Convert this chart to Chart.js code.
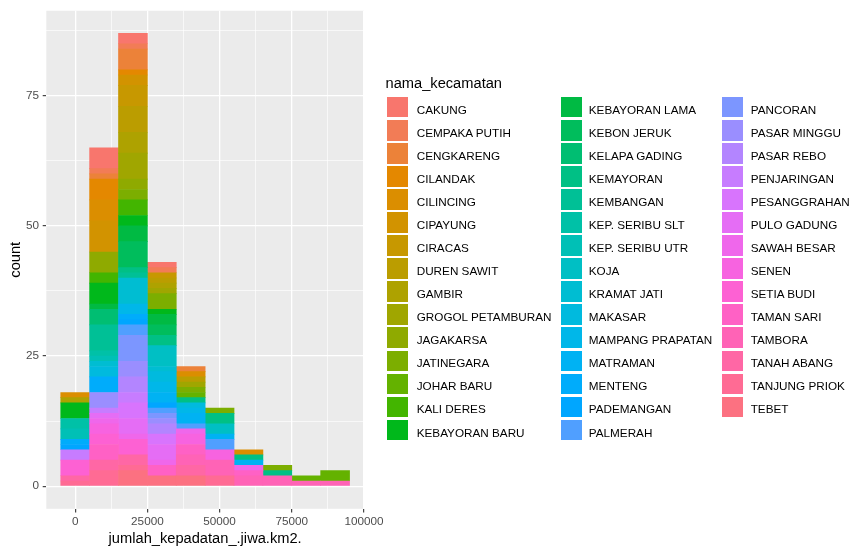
<!DOCTYPE html>
<html>
<head>
<meta charset="utf-8">
<script src="https://cdn.jsdelivr.net/npm/chart.js@4.4.0/dist/chart.umd.min.js"></script>
<style>
html, body { margin: 0; padding: 0; background: #ffffff; }
#wrap { position: relative; width: 865px; height: 554px; overflow: hidden; background: #ffffff;
        font-family: 'Liberation Sans', Arial, sans-serif; }
#c { position: absolute; left: 0; top: 0; }
.lg-title { position: absolute; left: 385.5px; top: 75.9px; font-size: 14.67px; line-height: 14.67px;
            color: #000; white-space: nowrap; }
.lg-key { position: absolute; width: 21px; height: 20.5px; }
.lg-text { position: absolute; font-size: 11.73px; line-height: 23.05px; height: 23.05px;
           color: #000; white-space: nowrap; }
</style>
</head>
<body>
<div id="wrap">
  <canvas id="c" width="865" height="554"></canvas>
  <div id="legend"></div>
</div>
<script>
// ---------------- data ----------------
const binCenters = [0, 10000, 20000, 30000, 40000, 50000, 60000, 70000, 80000, 90000];

const kecamatanNames = [
  'CAKUNG', 'CEMPAKA PUTIH', 'CENGKARENG', 'CILANDAK', 'CILINCING', 'CIPAYUNG', 'CIRACAS',
  'DUREN SAWIT', 'GAMBIR', 'GROGOL PETAMBURAN', 'JAGAKARSA', 'JATINEGARA', 'JOHAR BARU',
  'KALI DERES', 'KEBAYORAN BARU', 'KEBAYORAN LAMA', 'KEBON JERUK', 'KELAPA GADING',
  'KEMAYORAN', 'KEMBANGAN', 'KEP. SERIBU SLT', 'KEP. SERIBU UTR', 'KOJA', 'KRAMAT JATI',
  'MAKASAR', 'MAMPANG PRAPATAN', 'MATRAMAN', 'MENTENG', 'PADEMANGAN', 'PALMERAH',
  'PANCORAN', 'PASAR MINGGU', 'PASAR REBO', 'PENJARINGAN', 'PESANGGRAHAN', 'PULO GADUNG',
  'SAWAH BESAR', 'SENEN', 'SETIA BUDI', 'TAMAN SARI', 'TAMBORA', 'TANAH ABANG',
  'TANJUNG PRIOK', 'TEBET'
];

// counts per histogram bin (bins centred on binCenters)
const CAKUNG            = [0, 4, 2, 1, 0, 0, 0, 0, 0, 0];
const CEMPAKA_PUTIH     = [0, 1, 1, 1, 0, 0, 0, 0, 0, 0];
const CENGKARENG        = [0, 1, 4, 0, 1, 0, 0, 0, 0, 0];
const CILANDAK          = [0, 4, 1, 0, 0, 0, 0, 0, 0, 0];
const CILINCING         = [1, 4, 0, 0, 1, 0, 1, 0, 0, 0];
const CIPAYUNG          = [0, 6, 2, 0, 0, 0, 0, 0, 0, 0];
const CIRACAS           = [0, 0, 4, 1, 0, 0, 0, 0, 0, 0];
const DUREN_SAWIT       = [0, 0, 5, 1, 1, 0, 0, 0, 0, 0];
const GAMBIR            = [1, 0, 4, 1, 0, 0, 0, 0, 0, 0];
const GROGOL_PETAMBURAN = [0, 0, 5, 1, 1, 0, 0, 0, 0, 0];
const JAGAKARSA         = [0, 4, 2, 0, 0, 0, 0, 0, 0, 0];
const JATINEGARA        = [0, 0, 2, 3, 1, 1, 0, 1, 0, 0];
const JOHAR_BARU        = [0, 0, 0, 0, 1, 0, 0, 0, 1, 2];
const KALI_DERES        = [0, 2, 3, 0, 0, 0, 0, 0, 0, 0];
const KEBAYORAN_BARU    = [3, 4, 2, 1, 0, 0, 0, 0, 0, 0];
const KEBAYORAN_LAMA    = [0, 1, 3, 2, 0, 0, 0, 0, 0, 0];
const KEBON_JERUK       = [0, 0, 5, 2, 0, 0, 0, 0, 0, 0];
const KELAPA_GADING     = [0, 3, 0, 0, 0, 0, 0, 0, 0, 0];
const KEMAYORAN         = [0, 0, 1, 2, 1, 2, 1, 1, 0, 0];
const KEMBANGAN         = [0, 5, 1, 0, 0, 0, 0, 0, 0, 0];
const KEP_SERIBU_SLT    = [2, 1, 0, 0, 0, 0, 0, 0, 0, 0];
const KEP_SERIBU_UTR    = [2, 1, 0, 0, 0, 0, 0, 0, 0, 0];
const KOJA              = [0, 0, 0, 4, 0, 2, 0, 0, 0, 0];
const KRAMAT_JATI       = [0, 1, 5, 1, 0, 0, 0, 0, 0, 0];
const MAKASAR           = [0, 2, 0, 2, 1, 0, 0, 0, 0, 0];
const MAMPANG_PRAPATAN  = [0, 0, 2, 2, 1, 0, 0, 0, 0, 0];
const MATRAMAN          = [0, 0, 0, 2, 2, 1, 1, 0, 0, 0];
const MENTENG           = [1, 3, 1, 0, 0, 0, 0, 0, 0, 0];
const PADEMANGAN        = [1, 0, 1, 1, 0, 0, 0, 0, 0, 0];
const PALMERAH          = [0, 0, 2, 1, 1, 2, 0, 0, 0, 0];
const PANCORAN          = [0, 0, 5, 1, 0, 0, 0, 0, 0, 0];
const PASAR_MINGGU      = [0, 3, 3, 1, 0, 0, 0, 0, 0, 0];
const PASAR_REBO        = [0, 0, 3, 2, 0, 0, 0, 0, 0, 0];
const PENJARINGAN       = [2, 1, 2, 0, 0, 0, 0, 0, 0, 0];
const PESANGGRAHAN      = [0, 0, 3, 2, 0, 0, 0, 0, 0, 0];
const PULO_GADUNG       = [0, 1, 3, 3, 0, 0, 0, 0, 0, 0];
const SAWAH_BESAR       = [0, 1, 1, 1, 1, 0, 1, 0, 0, 0];
const SENEN             = [0, 2, 0, 0, 2, 2, 0, 0, 0, 0];
const SETIA_BUDI        = [3, 2, 3, 0, 0, 0, 0, 0, 0, 0];
const TAMAN_SARI        = [0, 3, 0, 2, 2, 0, 1, 0, 0, 0];
const TAMBORA           = [0, 0, 0, 0, 2, 3, 2, 2, 1, 1];
const TANAH_ABANG       = [1, 2, 2, 0, 2, 0, 0, 0, 0, 0];
const TANJUNG_PRIOK     = [1, 3, 1, 0, 0, 2, 0, 0, 0, 0];
const TEBET             = [0, 0, 3, 2, 2, 0, 0, 0, 0, 0];

const seriesValues = [
  CAKUNG, CEMPAKA_PUTIH, CENGKARENG, CILANDAK, CILINCING, CIPAYUNG, CIRACAS,
  DUREN_SAWIT, GAMBIR, GROGOL_PETAMBURAN, JAGAKARSA, JATINEGARA, JOHAR_BARU,
  KALI_DERES, KEBAYORAN_BARU, KEBAYORAN_LAMA, KEBON_JERUK, KELAPA_GADING,
  KEMAYORAN, KEMBANGAN, KEP_SERIBU_SLT, KEP_SERIBU_UTR, KOJA, KRAMAT_JATI,
  MAKASAR, MAMPANG_PRAPATAN, MATRAMAN, MENTENG, PADEMANGAN, PALMERAH,
  PANCORAN, PASAR_MINGGU, PASAR_REBO, PENJARINGAN, PESANGGRAHAN, PULO_GADUNG,
  SAWAH_BESAR, SENEN, SETIA_BUDI, TAMAN_SARI, TAMBORA, TANAH_ABANG,
  TANJUNG_PRIOK, TEBET
];

const xMajorTicks = [0, 25000, 50000, 75000, 100000];
const xMinorTicks = [12500, 37500, 62500, 87500];
const yMajorTicks = [0, 25, 50, 75];
const yMinorTicks = [12.5, 37.5, 62.5, 87.5];

// ---------------- colours (ggplot2 default hue palette, hcl c=100 l=65) ----------------
function hclToHex(h, c, l) {
  const hr = h * Math.PI / 180;
  const U = c * Math.cos(hr), V = c * Math.sin(hr);
  const Y = l > 8 ? Math.pow((l + 16) / 116, 3) : l / 903.3;
  const un = 0.1978398, vn = 0.4683363;
  const u = U / (13 * l) + un, v = V / (13 * l) + vn;
  const X = 9 * Y * u / (4 * v);
  const Z = Y * (12 - 3 * u - 20 * v) / (4 * v);
  const lin = [
     3.240479 * X - 1.537150 * Y - 0.498535 * Z,
    -0.969256 * X + 1.875992 * Y + 0.041556 * Z,
     0.055648 * X - 0.204043 * Y + 1.057311 * Z
  ];
  return '#' + lin.map(t => {
    let g = t > 0.0031308 ? 1.055 * Math.pow(t, 1 / 2.4) - 0.055 : 12.92 * t;
    g = Math.max(0, Math.min(1, g));
    return Math.round(g * 255).toString(16).padStart(2, '0');
  }).join('').toUpperCase();
}
const nK = kecamatanNames.length;
const colours = kecamatanNames.map((_, i) => hclToHex(15 + i * 360 / nK, 100, 65));

// ---------------- chart ----------------
Chart.defaults.font.family = "'Liberation Sans', Arial, sans-serif";

const panelBg = {
  id: 'panelBg',
  beforeDraw(chart) {
    const { ctx, chartArea: a } = chart;
    ctx.save();
    ctx.fillStyle = '#EBEBEB';
    ctx.fillRect(a.left, a.top, a.right - a.left, a.bottom - a.top);
    ctx.restore();
  }
};

// ggplot stacks the first level on top -> feed datasets in reverse order
const datasets = [];
for (let i = nK - 1; i >= 0; i--) {
  datasets.push({
    label: kecamatanNames[i],
    data: seriesValues[i].map(v => (v === 0 ? null : v)),
    backgroundColor: colours[i],
    borderWidth: 0,
    barPercentage: 1,
    categoryPercentage: 1
  });
}

const isXMajor = v => xMajorTicks.includes(v);
const isYMajor = v => yMajorTicks.includes(v);

const chart = new Chart(document.getElementById('c'), {
  type: 'bar',
  data: { labels: binCenters, datasets },
  plugins: [panelBg],
  options: {
    responsive: false,
    maintainAspectRatio: false,
    animation: false,
    layout: { padding: { left: 0, right: 501, top: 7.2, bottom: 0 } },
    plugins: { legend: { display: false }, tooltip: { enabled: false } },
    scales: {
      x: {
        type: 'linear',
        stacked: true,
        min: -10000,
        max: 100000,
        offset: false,
        afterBuildTicks: s => {
          s.ticks = xMajorTicks.concat(xMinorTicks).sort((a, b) => a - b).map(v => ({ value: v }));
        },
        afterFit: s => { s.height = 45.2; },
        ticks: {
          autoSkip: false, maxRotation: 0, minRotation: 0,
          color: '#4D4D4D', font: { size: 11.73 }, padding: 2.4,
          callback: v => (isXMajor(v) ? String(v) : '')
        },
        grid: {
          offset: false,
          color: '#FFFFFF',
          lineWidth: ctx => (ctx.tick && isXMajor(ctx.tick.value) ? 1.3 : 0.65),
          drawTicks: true,
          tickLength: 3.6,
          tickWidth: 1.1,
          tickColor: ctx => (ctx.tick && isXMajor(ctx.tick.value) ? '#333333' : 'rgba(0,0,0,0)')
        },
        border: { display: false },
        title: {
          display: true, text: 'jumlah_kepadatan_.jiwa.km2.', color: '#000000',
          font: { size: 14.67 }, padding: { top: 0, bottom: 6.3 }
        }
      },
      y: {
        type: 'linear',
        stacked: true,
        min: -4.35,
        max: 91.35,
        afterBuildTicks: s => {
          s.ticks = yMajorTicks.concat(yMinorTicks).sort((a, b) => a - b).map(v => ({ value: v }));
        },
        afterFit: s => { s.width = 46.3; },
        ticks: {
          autoSkip: false, color: '#4D4D4D', font: { size: 11.73 }, padding: 3.7,
          callback: v => (isYMajor(v) ? String(v) : '')
        },
        grid: {
          color: '#FFFFFF',
          lineWidth: ctx => (ctx.tick && isYMajor(ctx.tick.value) ? 1.3 : 0.65),
          drawTicks: true,
          tickLength: 3.6,
          tickWidth: 1.1,
          tickColor: ctx => (ctx.tick && isYMajor(ctx.tick.value) ? '#333333' : 'rgba(0,0,0,0)')
        },
        border: { display: false },
        title: {
          display: true, text: 'count', color: '#000000',
          font: { size: 14.67 }, padding: { top: 6.8, bottom: 0 }
        }
      }
    }
  }
});

// ---------------- legend (HTML, three columns like ggplot) ----------------
(function buildLegend() {
  const host = document.getElementById('legend');
  const title = document.createElement('div');
  title.className = 'lg-title';
  title.textContent = 'nama_kecamatan';
  host.appendChild(title);
  const perCol = 15;
  const keyLeft = [387, 561.3, 721.5];
  const textLeft = [416.7, 588.8, 750.7];
  const rowTop0 = 95.7, pitch = 23.05;
  kecamatanNames.forEach((name, i) => {
    const col = Math.floor(i / perCol), row = i % perCol;
    const top = rowTop0 + row * pitch;
    const key = document.createElement('div');
    key.className = 'lg-key';
    key.style.left = keyLeft[col] + 'px';
    key.style.top = (top + 1.27) + 'px';
    key.style.background = colours[i];
    host.appendChild(key);
    const txt = document.createElement('div');
    txt.className = 'lg-text';
    txt.style.left = textLeft[col] + 'px';
    txt.style.top = (top + 2.1) + 'px';
    txt.textContent = name;
    host.appendChild(txt);
  });
})();
</script>
</body>
</html>
